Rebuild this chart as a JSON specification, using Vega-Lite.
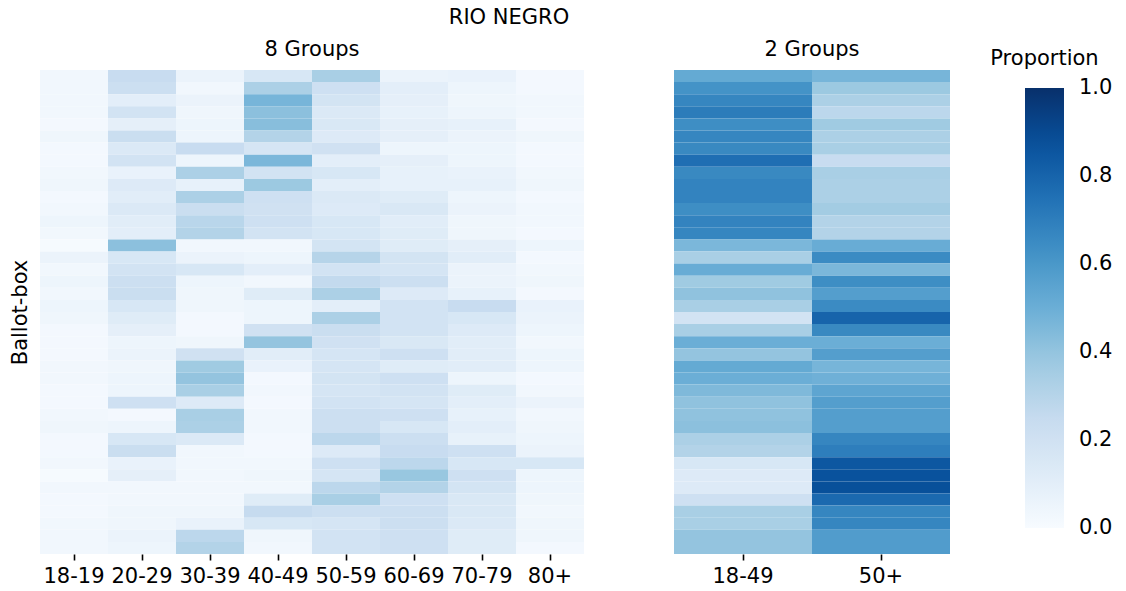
{
  "$schema": "https://vega.github.io/schema/vega-lite/v6.json",
  "background": "white",
  "padding": {"left": 9, "top": 7, "right": 5, "bottom": 5},
  "title": {"text": "RIO NEGRO", "fontSize": 21, "fontWeight": "normal", "font": "DejaVu Sans", "color": "black", "anchor": "middle", "offset": 11, "dx": -52},
  "config": {
    "font": "DejaVu Sans",
    "view": {"stroke": null},
    "axis": {"labelFontSize": 21, "titleFontSize": 21, "labelColor": "black", "titleColor": "black", "tickColor": "black", "titleFontWeight": "normal", "domain": false, "labelFont": "DejaVu Sans", "titleFont": "DejaVu Sans"},
    "title": {"fontSize": 21, "fontWeight": "normal", "color": "black", "font": "DejaVu Sans"}
  },
  "datasets": {
    "eight": [
      {"box": 1, "18-19": 0.03, "20-29": 0.24, "30-39": 0.06, "40-49": 0.16, "50-59": 0.34, "60-69": 0.06, "70-79": 0.07, "80+": 0.02},
      {"box": 2, "18-19": 0.03, "20-29": 0.22, "30-39": 0.03, "40-49": 0.33, "50-59": 0.21, "60-69": 0.10, "70-79": 0.05, "80+": 0.02},
      {"box": 3, "18-19": 0.03, "20-29": 0.10, "30-39": 0.06, "40-49": 0.47, "50-59": 0.18, "60-69": 0.09, "70-79": 0.04, "80+": 0.03},
      {"box": 4, "18-19": 0.03, "20-29": 0.19, "30-39": 0.04, "40-49": 0.42, "50-59": 0.14, "60-69": 0.08, "70-79": 0.05, "80+": 0.03},
      {"box": 5, "18-19": 0.02, "20-29": 0.09, "30-39": 0.05, "40-49": 0.43, "50-59": 0.15, "60-69": 0.09, "70-79": 0.08, "80+": 0.02},
      {"box": 6, "18-19": 0.04, "20-29": 0.23, "30-39": 0.05, "40-49": 0.31, "50-59": 0.13, "60-69": 0.09, "70-79": 0.06, "80+": 0.04},
      {"box": 7, "18-19": 0.02, "20-29": 0.14, "30-39": 0.24, "40-49": 0.17, "50-59": 0.20, "60-69": 0.05, "70-79": 0.05, "80+": 0.02},
      {"box": 8, "18-19": 0.02, "20-29": 0.19, "30-39": 0.05, "40-49": 0.46, "50-59": 0.10, "60-69": 0.09, "70-79": 0.05, "80+": 0.02},
      {"box": 9, "18-19": 0.03, "20-29": 0.07, "30-39": 0.33, "40-49": 0.19, "50-59": 0.16, "60-69": 0.08, "70-79": 0.07, "80+": 0.03},
      {"box": 10, "18-19": 0.04, "20-29": 0.13, "30-39": 0.08, "40-49": 0.38, "50-59": 0.10, "60-69": 0.08, "70-79": 0.08, "80+": 0.04},
      {"box": 11, "18-19": 0.02, "20-29": 0.11, "30-39": 0.33, "40-49": 0.21, "50-59": 0.14, "60-69": 0.12, "70-79": 0.05, "80+": 0.02},
      {"box": 12, "18-19": 0.03, "20-29": 0.14, "30-39": 0.23, "40-49": 0.20, "50-59": 0.13, "60-69": 0.15, "70-79": 0.06, "80+": 0.03},
      {"box": 13, "18-19": 0.05, "20-29": 0.11, "30-39": 0.29, "40-49": 0.21, "50-59": 0.16, "60-69": 0.11, "70-79": 0.04, "80+": 0.03},
      {"box": 14, "18-19": 0.03, "20-29": 0.10, "30-39": 0.31, "40-49": 0.19, "50-59": 0.16, "60-69": 0.12, "70-79": 0.04, "80+": 0.02},
      {"box": 15, "18-19": 0.01, "20-29": 0.42, "30-39": 0.03, "40-49": 0.03, "50-59": 0.18, "60-69": 0.12, "70-79": 0.09, "80+": 0.05},
      {"box": 16, "18-19": 0.06, "20-29": 0.16, "30-39": 0.06, "40-49": 0.05, "50-59": 0.30, "60-69": 0.18, "70-79": 0.11, "80+": 0.02},
      {"box": 17, "18-19": 0.03, "20-29": 0.19, "30-39": 0.16, "40-49": 0.10, "50-59": 0.19, "60-69": 0.17, "70-79": 0.06, "80+": 0.03},
      {"box": 18, "18-19": 0.05, "20-29": 0.22, "30-39": 0.05, "40-49": 0.03, "50-59": 0.26, "60-69": 0.22, "70-79": 0.06, "80+": 0.04},
      {"box": 19, "18-19": 0.03, "20-29": 0.23, "30-39": 0.04, "40-49": 0.12, "50-59": 0.33, "60-69": 0.13, "70-79": 0.08, "80+": 0.02},
      {"box": 20, "18-19": 0.05, "20-29": 0.16, "30-39": 0.04, "40-49": 0.05, "50-59": 0.10, "60-69": 0.19, "70-79": 0.24, "80+": 0.07},
      {"box": 21, "18-19": 0.04, "20-29": 0.12, "30-39": 0.02, "40-49": 0.05, "50-59": 0.33, "60-69": 0.19, "70-79": 0.16, "80+": 0.06},
      {"box": 22, "18-19": 0.02, "20-29": 0.09, "30-39": 0.02, "40-49": 0.20, "50-59": 0.23, "60-69": 0.19, "70-79": 0.13, "80+": 0.05},
      {"box": 23, "18-19": 0.02, "20-29": 0.05, "30-39": 0.04, "40-49": 0.40, "50-59": 0.20, "60-69": 0.15, "70-79": 0.11, "80+": 0.03},
      {"box": 24, "18-19": 0.02, "20-29": 0.06, "30-39": 0.20, "40-49": 0.11, "50-59": 0.17, "60-69": 0.21, "70-79": 0.11, "80+": 0.05},
      {"box": 25, "18-19": 0.03, "20-29": 0.04, "30-39": 0.37, "40-49": 0.07, "50-59": 0.17, "60-69": 0.12, "70-79": 0.11, "80+": 0.05},
      {"box": 26, "18-19": 0.03, "20-29": 0.05, "30-39": 0.40, "40-49": 0.02, "50-59": 0.18, "60-69": 0.21, "70-79": 0.05, "80+": 0.02},
      {"box": 27, "18-19": 0.02, "20-29": 0.05, "30-39": 0.34, "40-49": 0.03, "50-59": 0.17, "60-69": 0.19, "70-79": 0.12, "80+": 0.03},
      {"box": 28, "18-19": 0.02, "20-29": 0.21, "30-39": 0.13, "40-49": 0.02, "50-59": 0.19, "60-69": 0.17, "70-79": 0.10, "80+": 0.06},
      {"box": 29, "18-19": 0.03, "20-29": 0.02, "30-39": 0.34, "40-49": 0.03, "50-59": 0.22, "60-69": 0.21, "70-79": 0.08, "80+": 0.03},
      {"box": 30, "18-19": 0.04, "20-29": 0.05, "30-39": 0.33, "40-49": 0.03, "50-59": 0.22, "60-69": 0.16, "70-79": 0.10, "80+": 0.04},
      {"box": 31, "18-19": 0.02, "20-29": 0.16, "30-39": 0.14, "40-49": 0.02, "50-59": 0.28, "60-69": 0.22, "70-79": 0.08, "80+": 0.05},
      {"box": 32, "18-19": 0.02, "20-29": 0.23, "30-39": 0.03, "40-49": 0.02, "50-59": 0.13, "60-69": 0.24, "70-79": 0.21, "80+": 0.06},
      {"box": 33, "18-19": 0.03, "20-29": 0.07, "30-39": 0.03, "40-49": 0.03, "50-59": 0.21, "60-69": 0.28, "70-79": 0.16, "80+": 0.16},
      {"box": 34, "18-19": 0.01, "20-29": 0.09, "30-39": 0.03, "40-49": 0.04, "50-59": 0.17, "60-69": 0.39, "70-79": 0.21, "80+": 0.05},
      {"box": 35, "18-19": 0.03, "20-29": 0.03, "30-39": 0.03, "40-49": 0.03, "50-59": 0.28, "60-69": 0.31, "70-79": 0.18, "80+": 0.05},
      {"box": 36, "18-19": 0.02, "20-29": 0.03, "30-39": 0.03, "40-49": 0.12, "50-59": 0.34, "60-69": 0.21, "70-79": 0.15, "80+": 0.04},
      {"box": 37, "18-19": 0.02, "20-29": 0.04, "30-39": 0.04, "40-49": 0.25, "50-59": 0.22, "60-69": 0.22, "70-79": 0.15, "80+": 0.03},
      {"box": 38, "18-19": 0.03, "20-29": 0.04, "30-39": 0.07, "40-49": 0.16, "50-59": 0.17, "60-69": 0.22, "70-79": 0.14, "80+": 0.04},
      {"box": 39, "18-19": 0.03, "20-29": 0.06, "30-39": 0.28, "40-49": 0.04, "50-59": 0.19, "60-69": 0.21, "70-79": 0.12, "80+": 0.04},
      {"box": 40, "18-19": 0.03, "20-29": 0.05, "30-39": 0.31, "40-49": 0.03, "50-59": 0.19, "60-69": 0.21, "70-79": 0.12, "80+": 0.02}
    ],
    "two": [
      {"box": 1, "18-49": 0.52, "50+": 0.47},
      {"box": 2, "18-49": 0.62, "50+": 0.38},
      {"box": 3, "18-49": 0.67, "50+": 0.33},
      {"box": 4, "18-49": 0.71, "50+": 0.28},
      {"box": 5, "18-49": 0.64, "50+": 0.37},
      {"box": 6, "18-49": 0.67, "50+": 0.33},
      {"box": 7, "18-49": 0.66, "50+": 0.34},
      {"box": 8, "18-49": 0.76, "50+": 0.24},
      {"box": 9, "18-49": 0.66, "50+": 0.34},
      {"box": 10, "18-49": 0.68, "50+": 0.33},
      {"box": 11, "18-49": 0.68, "50+": 0.33},
      {"box": 12, "18-49": 0.64, "50+": 0.36},
      {"box": 13, "18-49": 0.68, "50+": 0.31},
      {"box": 14, "18-49": 0.67, "50+": 0.31},
      {"box": 15, "18-49": 0.46, "50+": 0.51},
      {"box": 16, "18-49": 0.34, "50+": 0.65},
      {"box": 17, "18-49": 0.51, "50+": 0.46},
      {"box": 18, "18-49": 0.37, "50+": 0.64},
      {"box": 19, "18-49": 0.41, "50+": 0.57},
      {"box": 20, "18-49": 0.34, "50+": 0.65},
      {"box": 21, "18-49": 0.19, "50+": 0.80},
      {"box": 22, "18-49": 0.34, "50+": 0.66},
      {"box": 23, "18-49": 0.50, "50+": 0.50},
      {"box": 24, "18-49": 0.40, "50+": 0.57},
      {"box": 25, "18-49": 0.52, "50+": 0.47},
      {"box": 26, "18-49": 0.50, "50+": 0.49},
      {"box": 27, "18-49": 0.45, "50+": 0.54},
      {"box": 28, "18-49": 0.41, "50+": 0.57},
      {"box": 29, "18-49": 0.41, "50+": 0.57},
      {"box": 30, "18-49": 0.42, "50+": 0.57},
      {"box": 31, "18-49": 0.33, "50+": 0.67},
      {"box": 32, "18-49": 0.31, "50+": 0.70},
      {"box": 33, "18-49": 0.16, "50+": 0.85},
      {"box": 34, "18-49": 0.13, "50+": 0.87},
      {"box": 35, "18-49": 0.13, "50+": 0.88},
      {"box": 36, "18-49": 0.21, "50+": 0.78},
      {"box": 37, "18-49": 0.34, "50+": 0.67},
      {"box": 38, "18-49": 0.34, "50+": 0.67},
      {"box": 39, "18-49": 0.40, "50+": 0.58},
      {"box": 40, "18-49": 0.40, "50+": 0.58}
    ]
  },
  "spacing": 90,
  "resolve": {"scale": {"color": "shared"}},
  "hconcat": [
    {
      "width": 544,
      "height": 484,
      "title": {"text": "8 Groups", "offset": 10},
      "data": {"name": "eight"},
      "transform": [{"fold": ["18-19", "20-29", "30-39", "40-49", "50-59", "60-69", "70-79", "80+"], "as": ["age", "p"]}],
      "mark": "rect",
      "encoding": {
        "x": {"field": "age", "type": "ordinal", "sort": ["18-19", "20-29", "30-39", "40-49", "50-59", "60-69", "70-79", "80+"], "scale": {"paddingInner": 0, "paddingOuter": 0}, "axis": {"title": null, "labelAngle": 0, "tickSize": 6, "tickWidth": 1.6, "labelPadding": 5}},
        "y": {"field": "box", "type": "ordinal", "scale": {"paddingInner": 0, "paddingOuter": 0}, "axis": {"title": "Ballot-box", "labels": false, "ticks": false, "titlePadding": 10}},
        "color": {
          "field": "p", "type": "quantitative",
          "scale": {"domain": [0, 0.125, 0.25, 0.375, 0.5, 0.625, 0.75, 0.875, 1], "range": ["#f7fbff", "#deebf7", "#c6dbef", "#9ecae1", "#6baed6", "#4292c6", "#2171b5", "#08519c", "#08306b"], "interpolate": "rgb"},
          "legend": {"title": "Proportion", "orient": "none", "legendX": 950, "legendY": -22, "direction": "vertical", "gradientLength": 440, "gradientThickness": 39, "gradientStrokeWidth": 0, "values": [0, 0.2, 0.4, 0.6, 0.8, 1], "format": ".1f", "labelFontSize": 21, "labelColor": "black", "labelOffset": 15, "labelBaseline": "middle", "titleFontSize": 21, "titleFontWeight": "normal", "titleColor": "black", "titlePadding": 19, "titleAnchor": "start", "titleAlign": "center", "encoding": {"title": {"dx": {"value": 19.5}}, "labels": {"baseline": {"value": "middle"}}}}
        }
      }
    },
    {
      "width": 276,
      "height": 484,
      "title": {"text": "2 Groups", "offset": 10},
      "data": {"name": "two"},
      "transform": [{"fold": ["18-49", "50+"], "as": ["age", "p"]}],
      "mark": "rect",
      "encoding": {
        "x": {"field": "age", "type": "ordinal", "sort": ["18-49", "50+"], "scale": {"paddingInner": 0, "paddingOuter": 0}, "axis": {"title": null, "labelAngle": 0, "tickSize": 6, "tickWidth": 1.6, "labelPadding": 5}},
        "y": {"field": "box", "type": "ordinal", "scale": {"paddingInner": 0, "paddingOuter": 0}, "axis": null},
        "color": {
          "field": "p", "type": "quantitative",
          "scale": {"domain": [0, 0.125, 0.25, 0.375, 0.5, 0.625, 0.75, 0.875, 1], "range": ["#f7fbff", "#deebf7", "#c6dbef", "#9ecae1", "#6baed6", "#4292c6", "#2171b5", "#08519c", "#08306b"], "interpolate": "rgb"}
        }
      }
    }
  ]
}
